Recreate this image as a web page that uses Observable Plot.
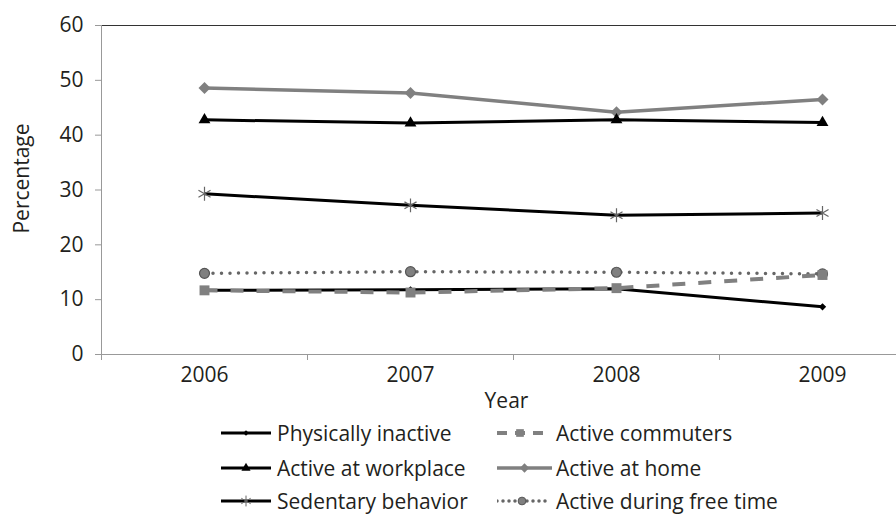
<!DOCTYPE html>
<html><head><meta charset="utf-8">
<script src="https://cdn.jsdelivr.net/npm/d3@7"></script>
<script src="https://cdn.jsdelivr.net/npm/@observablehq/plot@0.6"></script>
<style>
body{margin:0;background:#fff;overflow:hidden;font-family:"Open Sans",sans-serif;}
#wrap{position:relative;width:896px;height:514px;overflow:hidden;}
#wrap svg.plot{position:absolute;left:0;top:0;}
.leg{position:absolute;display:flex;align-items:center;font-size:21px;line-height:1;color:#231f20;white-space:nowrap;height:24px;}
.leg svg{display:block;}
</style></head><body><div id="wrap"></div>
<script>
const years = [2006, 2007, 2008, 2009];
const physicallyInactive = [11.7, 11.8, 12.0, 8.7];
const activeCommuters = [11.7, 11.3, 12.1, 14.5];
const activeWorkplace = [42.8, 42.2, 42.8, 42.3];
const activeHome = [48.6, 47.7, 44.2, 46.5];
const sedentaryBehavior = [29.3, 27.2, 25.4, 25.8];
const activeFreeTime = [14.8, 15.1, 15.0, 14.7];
const yTicks = [0, 10, 20, 30, 40, 50, 60];
const xBounds = [2005.5, 2006.5, 2007.5, 2008.5, 2009.5];

const TXT = "#231f20", GRAY = "#808080";
const series = [
  {name:"Physically inactive", values:physicallyInactive, stroke:"#000", width:3, dash:null, symbol:"diamond2", r:3.3, fill:"#000", dotStroke:"none"},
  {name:"Active commuters", values:activeCommuters, stroke:GRAY, width:4, dash:"13,13", symbol:"square", r:5.6, fill:GRAY, dotStroke:"none"},
  {name:"Active at workplace", values:activeWorkplace, stroke:"#000", width:3, dash:null, symbol:"triangle", r:4.4, fill:"#000", dotStroke:"none"},
  {name:"Active at home", values:activeHome, stroke:GRAY, width:3.5, dash:null, symbol:"diamond2", r:5.4, fill:GRAY, dotStroke:"none"},
  {name:"Sedentary behavior", values:sedentaryBehavior, stroke:"#000", width:3, dash:null, symbol:"asterisk", r:6.6, fill:"none", dotStroke:"#666"},
  {name:"Active during free time", values:activeFreeTime, stroke:"#666", width:3.5, dash:"0,8.5", symbol:"circle", r:5, fill:GRAY, dotStroke:"#555"}
];
const drawOrder = [3, 2, 4, 5, 0, 1];

const marks = [
  Plot.ruleY([60], {stroke:"#333", strokeWidth:1}),
  Plot.ruleY([0], {stroke:"#999", strokeWidth:1}),
  Plot.ruleX([2005.5], {stroke:"#999", strokeWidth:1}),
  Plot.axisY({ticks:yTicks, tickSize:6, tickPadding:12, stroke:"#999", fill:TXT, fontSize:21, label:null}),
  Plot.axisX({ticks:xBounds, tickSize:6, stroke:"#999", tickFormat:()=>"", label:null}),
  Plot.axisX({ticks:years, tickSize:0, tickPadding:13, fill:TXT, fontSize:21, tickFormat:d=>String(d), label:null}),
  Plot.text(["Percentage"], {frameAnchor:"left", textAnchor:"middle", lineAnchor:"middle", dx:-79, dy:-11.5, rotate:-90, fill:TXT, fontSize:21}),
  Plot.text(["Year"], {x:2007.5, frameAnchor:"bottom", lineAnchor:"middle", dx:-7, dy:47, fill:TXT, fontSize:21})
];
for (const i of drawOrder) {
  const s = series[i];
  const data = years.map((y, j) => ({year:y, value:s.values[j]}));
  marks.push(Plot.line(data, {x:"year", y:"value", stroke:s.stroke, strokeWidth:s.width, strokeDasharray:s.dash, strokeLinecap:s.dash && s.dash.startsWith("0") ? "round" : "butt"}));
  marks.push(Plot.dot(data, {x:"year", y:"value", symbol:s.symbol, r:s.r, fill:s.fill, stroke:s.dotStroke, strokeWidth:1.2}));
}

const chart = Plot.plot({
  width:896, height:422,
  marginLeft:101, marginTop:25, marginBottom:68, marginRight:0,
  style:{fontFamily:'"Open Sans", sans-serif', overflow:"hidden", background:"transparent"},
  x:{type:"linear", domain:[2005.5, 2009.5], range:[101, 925]},
  y:{domain:[0, 60], range:[354, 25]},
  marks
});
const wrap = document.getElementById("wrap");
wrap.appendChild(chart);

// legend
const symMap = {diamond2:d3.symbolDiamond2, square:d3.symbolSquare, triangle:d3.symbolTriangle, asterisk:d3.symbolAsterisk, circle:d3.symbolCircle};
const legPos = [
  {x:221, y:433, w:50, tx:6}, {x:497, y:433, w:46, tx:13},
  {x:221, y:468, w:50, tx:6}, {x:497, y:468, w:55, tx:4},
  {x:221, y:501, w:50, tx:6}, {x:497, y:501, w:50, tx:9}
];
series.forEach((s, i) => {
  const p = legPos[i];
  const div = document.createElement("div");
  div.className = "leg";
  div.style.left = p.x + "px";
  div.style.top = (p.y - 12) + "px";
  const svg = d3.create("svg").attr("width", p.w + p.tx).attr("height", 24);
  svg.append("line").attr("x1", 0).attr("x2", p.w).attr("y1", 12).attr("y2", 12)
    .attr("stroke", s.stroke).attr("stroke-width", s.width)
    .attr("stroke-dasharray", s.dash ? (s.dash.startsWith("0") ? "0,6" : "10,8") : null)
    .attr("stroke-linecap", s.dash && s.dash.startsWith("0") ? "round" : "butt");
  const size = Math.PI * s.r * s.r * 0.6;
  svg.append("path").attr("transform", `translate(${p.w/2},12)`)
    .attr("d", d3.symbol(symMap[s.symbol], size)())
    .attr("fill", s.fill).attr("stroke", s.dotStroke).attr("stroke-width", 1);
  div.appendChild(svg.node());
  const span = document.createElement("span");
  span.textContent = s.name;
  div.appendChild(span);
  wrap.appendChild(div);
});
</script></body></html>
